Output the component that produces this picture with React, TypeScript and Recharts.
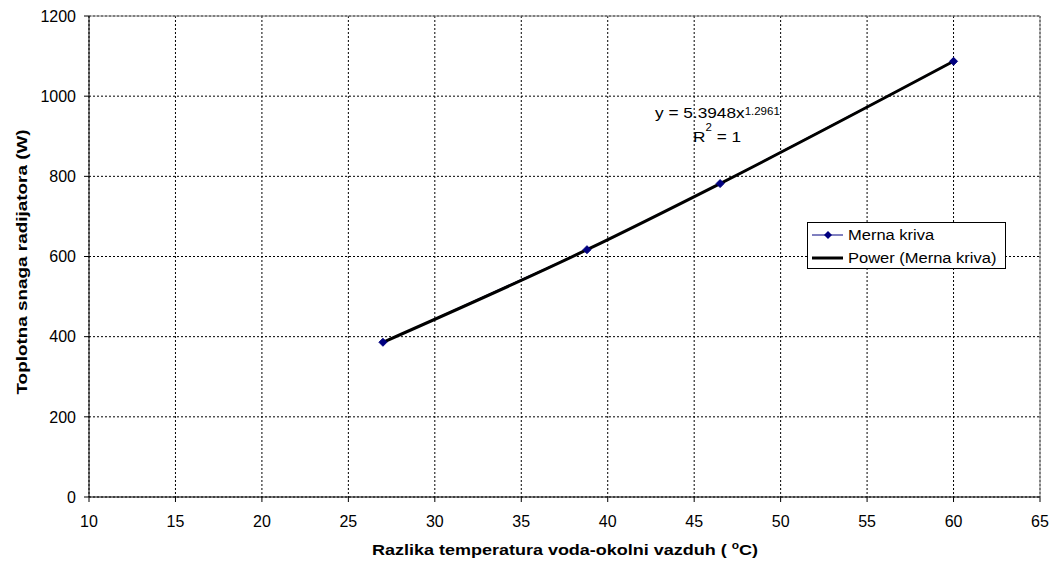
import React from "react";
import {
  ComposedChart,
  Line,
  Scatter,
  XAxis,
  YAxis,
  CartesianGrid,
  ReferenceLine,
} from "recharts";

if (typeof document !== "undefined") {
  document.body.style.margin = "0";
}

const temps = [27, 38.8, 46.5, 60];
const power = [386, 617, 782, 1087];
const xTicks = [10, 15, 20, 25, 30, 35, 40, 45, 50, 55, 60, 65];
const yTicks = [0, 200, 400, 600, 800, 1000, 1200];
const seriesName = "Merna kriva";
const trendName = "Power (Merna kriva)";
const equationMain = "y = 5.3948x";
const equationExp = "1.2961";
const xTitle = "Razlika temperatura voda-okolni vazduh ( ";
const yTitle = "Toplotna snaga radijatora (W)";

const data = temps.map((t, i) => ({ t, p: power[i] }));

const FONT = "'Liberation Sans', Arial, sans-serif";
const W = 1052;
const H = 563;

const Diamond = (props: any) => {
  const { cx, cy } = props;
  if (cx == null || cy == null) return null;
  const r = 4;
  return (
    <polygon
      points={`${cx},${cy - r} ${cx + r},${cy} ${cx},${cy + r} ${cx - r},${cy}`}
      fill="#000080"
      stroke="#000080"
    />
  );
};

const LegendBox = () => (
  <div
    style={{
      position: "absolute",
      left: 807,
      top: 222,
      width: 197,
      height: 45,
      border: "1px solid #000",
      background: "#fff",
      boxSizing: "content-box",
    }}
  >
    <svg width={197} height={45} style={{ display: "block" }}>
      <line x1={4} x2={35} y1={12} y2={12} stroke="#000080" strokeWidth={1} />
      <polygon points="20,8 24,12 20,16 16,12" fill="#000080" />
      <g transform="translate(40,12) scale(1.1,1)">
        <text x={0} y={0} dominantBaseline="central" fontFamily={FONT} fontSize={15}>
          {seriesName}
        </text>
      </g>
      <line x1={4} x2={35} y1={35} y2={35} stroke="#000" strokeWidth={3} />
      <g transform="translate(40,35) scale(1.1,1)">
        <text x={0} y={0} dominantBaseline="central" fontFamily={FONT} fontSize={15}>
          {trendName}
        </text>
      </g>
    </svg>
  </div>
);

export default function App() {
  return (
    <div style={{ position: "relative", width: W, height: H, margin: 0 }}>
      <ComposedChart
        width={W}
        height={H}
        data={data}
        margin={{ top: 16, right: 12, left: 29, bottom: 26 }}
        style={{ overflow: "visible" }}
      >
        <CartesianGrid stroke="#000" strokeDasharray="2 2" />
        <XAxis
          dataKey="t"
          type="number"
          domain={[10, 65]}
          ticks={xTicks}
          allowDataOverflow
          height={40}
          stroke="#000"
          tickSize={5}
          tickMargin={14}
          interval={0}
          tick={{ fill: "#000", fontSize: 16, fontFamily: FONT }}
          tickLine={{ stroke: "#000" }}
        />
        <YAxis
          type="number"
          domain={[0, 1200]}
          ticks={yTicks}
          width={60}
          stroke="#000"
          tickSize={5}
          tickMargin={8}
          interval={0}
          tick={{ fill: "#000", fontSize: 16, fontFamily: FONT }}
          tickLine={{ stroke: "#000" }}
        />
        <ReferenceLine y={1200} stroke="#808080" strokeWidth={1} />
        <ReferenceLine x={65} stroke="#808080" strokeWidth={1} />
        <Line
          dataKey="p"
          name={seriesName}
          stroke="#000080"
          strokeWidth={1}
          dot={false}
          isAnimationActive={false}
          legendType="none"
        />
        <Line
          dataKey="p"
          name={trendName}
          type="monotone"
          stroke="#000"
          strokeWidth={3}
          dot={false}
          isAnimationActive={false}
          legendType="none"
        />
        <Scatter
          dataKey="p"
          name={seriesName}
          shape={Diamond}
          fill="#000080"
          isAnimationActive={false}
          legendType="none"
        />
      </ComposedChart>
      <LegendBox />
      <svg
        width={W}
        height={H}
        style={{ position: "absolute", left: 0, top: 0, pointerEvents: "none" }}
      >
        <g transform="translate(655,118) scale(1.15,1)">
          <text x={0} y={0} fontFamily={FONT} fontSize={15} fill="#000">
            {equationMain}
            <tspan fontSize={10} dy={-3}>{equationExp}</tspan>
          </text>
        </g>
        <g transform="translate(693,142) scale(1.15,1)">
          <text x={0} y={0} fontFamily={FONT} fontSize={15} fill="#000">
            R<tspan fontSize={10} dy={-11}>2</tspan>
            <tspan dy={11}> = 1</tspan>
          </text>
        </g>
        <g transform="translate(565,555) scale(1.2,1)">
          <text
            x={0}
            y={0}
            textAnchor="middle"
            fontFamily={FONT}
            fontSize={15}
            fontWeight="bold"
            fill="#000"
          >
            {xTitle}
            <tspan fontSize={10} dy={-6}>o</tspan>
            <tspan dy={6}>C)</tspan>
          </text>
        </g>
        <g transform="translate(22,262) rotate(-90) scale(1.26,1)">
          <text
            x={0}
            y={0}
            textAnchor="middle"
            dominantBaseline="central"
            fontFamily={FONT}
            fontSize={15}
            fontWeight="bold"
            fill="#000"
          >
            {yTitle}
          </text>
        </g>
      </svg>
    </div>
  );
}
